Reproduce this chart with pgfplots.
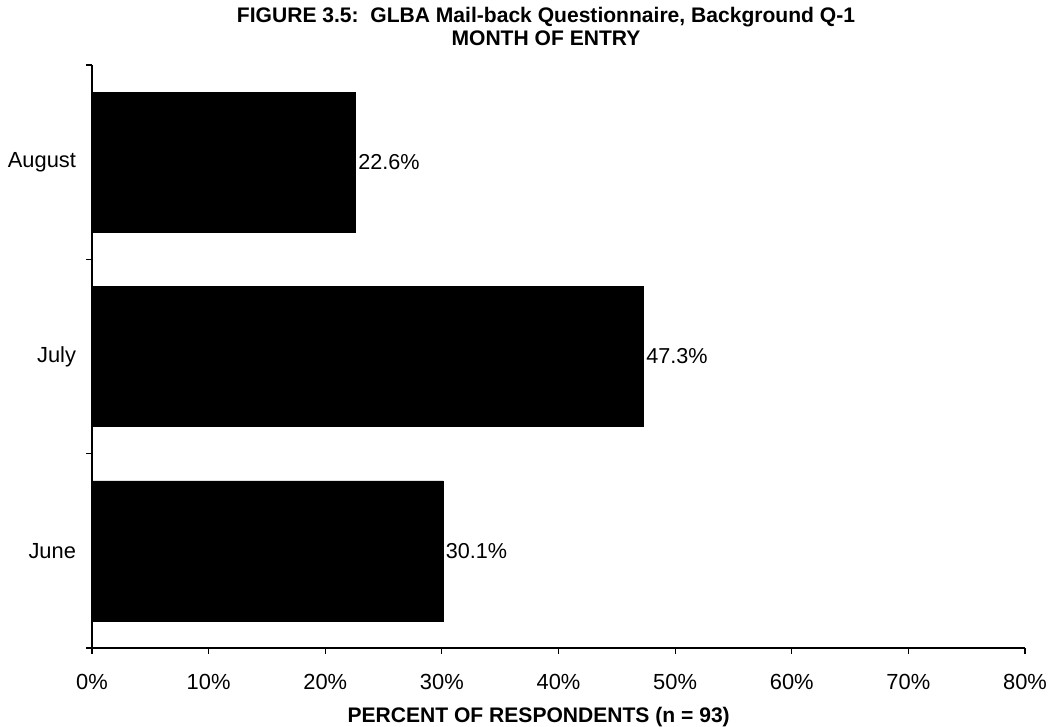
\documentclass[border=0pt]{standalone}
\usepackage{fontspec}
\setmainfont{Liberation Sans}
\usepackage{pgfplots}
\pgfplotsset{compat=1.18}

\begin{document}
\begin{tikzpicture}
% page frame: 1049 x 727 px at 0.75pt/px, axis box at (0,0)
\useasboundingbox (-69pt,-59.25pt) rectangle (717.75pt,486pt);
\begin{axis}[
  at={(0,0)}, anchor=south west,
  scale only axis,
  width=699.75pt, height=437.25pt,
  xbar, bar width=105pt,
  xmin=0, xmax=80,
  ymin=-0.5, ymax=2.5,
  axis x line*=bottom,
  axis y line*=left,
  axis line style={black, line width=0.8pt},
  xtick={0,10,...,80},
  xticklabels={0\%,10\%,20\%,30\%,40\%,50\%,60\%,70\%,80\%},
  ytick={0,1,2},
  yticklabels={June,July,August},
  minor ytick={-0.5,0.5,1.5,2.5},
  major y tick style={draw=none},
  minor tick length=4.5pt,
  major tick length=4.5pt,
  tick align=outside,
  tick style={black, line width=0.8pt},
  ticklabel style={font=\fontsize{16.4}{19}\selectfont},
  xticklabel style={yshift=-12pt},
  yticklabel style={xshift=-4pt},
  /pgf/number format/assume math mode=true,
  point meta=x,
  nodes near coords={\pgfmathprintnumber[fixed,precision=1,fixed zerofill]{\pgfplotspointmeta}\%},
  nodes near coords style={font=\fontsize{16.2}{19}\selectfont, anchor=west, xshift=-1.5pt},
  clip=false,
]
\addplot[fill=black, draw=black] coordinates {(30.1,0) (47.3,1) (22.6,2)};
\end{axis}
\node[font=\bfseries\fontsize{15.8}{19}\selectfont] at (340.5pt,473.25pt) {FIGURE 3.5:\ \ GLBA Mail-back Questionnaire, Background Q-1};
\node[font=\bfseries\fontsize{15.8}{19}\selectfont] at (340.5pt,457.5pt) {MONTH OF ENTRY};
\node[font=\bfseries\fontsize{15.8}{19}\selectfont] at (335pt,-51.75pt) {PERCENT OF RESPONDENTS (n = 93)};
\end{tikzpicture}
\end{document}
